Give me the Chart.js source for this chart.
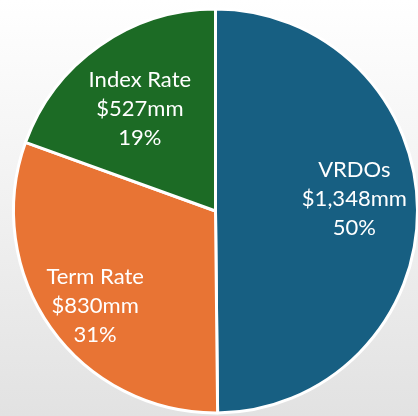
<!DOCTYPE html>
<html>
<head>
<meta charset="utf-8">
<script src="https://cdn.jsdelivr.net/npm/chart.js@4"></script>
<style>
  html, body { margin: 0; padding: 0; width: 418px; height: 416px; overflow: hidden;
    background: linear-gradient(to bottom, #ffffff 0%, #f2f2f2 45%, #e2e2e2 100%); }
  #wrap { position: absolute; left: 0; top: 0; width: 431px; height: 422px; }
</style>
</head>
<body>
<div id="wrap"><canvas id="c" width="431" height="422"></canvas></div>
<script>
const categories = ["VRDOs", "Term Rate", "Index Rate"];
const amountsMM = [1348, 830, 527];
const amountLabels = ["$1,348mm", "$830mm", "$527mm"];
const percentLabels = ["50%", "31%", "19%"];
const colors = ["#175f82", "#e87434", "#1c6b25"];

const labelPlugin = {
  id: 'sliceLabels',
  afterDatasetsDraw(chart, args, opts) {
    const ctx = chart.ctx;
    const meta = chart.getDatasetMeta(0);
    ctx.save();
    ctx.fillStyle = '#ffffff';
    ctx.font = opts.font;
    ctx.textAlign = 'center';
    ctx.textBaseline = 'middle';
    meta.data.forEach((arc, i) => {
      const p = arc.getProps(['x', 'y', 'startAngle', 'endAngle', 'outerRadius'], true);
      const mid = (p.startAngle + p.endAngle) / 2 + opts.angleShift[i] * Math.PI / 180;
      const r = p.outerRadius * opts.radiusFrac[i];
      const cx = p.x + Math.cos(mid) * r;
      const cy = p.y + Math.sin(mid) * r;
      const lines = [categories[i], amountLabels[i], percentLabels[i]];
      lines.forEach((t, k) => {
        ctx.fillText(t, cx, cy + (k - 1) * opts.lineHeight);
      });
    });
    ctx.restore();
  }
};

new Chart(document.getElementById('c'), {
  type: 'pie',
  data: {
    labels: categories,
    datasets: [{
      data: amountsMM,
      backgroundColor: colors,
      borderColor: '#ffffff',
      borderWidth: 3,
      hoverOffset: 0
    }]
  },
  options: {
    responsive: false,
    devicePixelRatio: 1,
    animation: false,
    radius: 202,
    rotation: 0,
    layout: { padding: 0 },
    events: [],
    plugins: {
      legend: { display: false },
      tooltip: { enabled: false },
      sliceLabels: {
        font: '22px Lato',
        lineHeight: 29,
        radiusFrac: [0.69, 0.76, 0.63],
        angleShift: [-4.7, -3.0, -1.4]
      }
    }
  },
  plugins: [labelPlugin]
});
</script>
</body>
</html>
